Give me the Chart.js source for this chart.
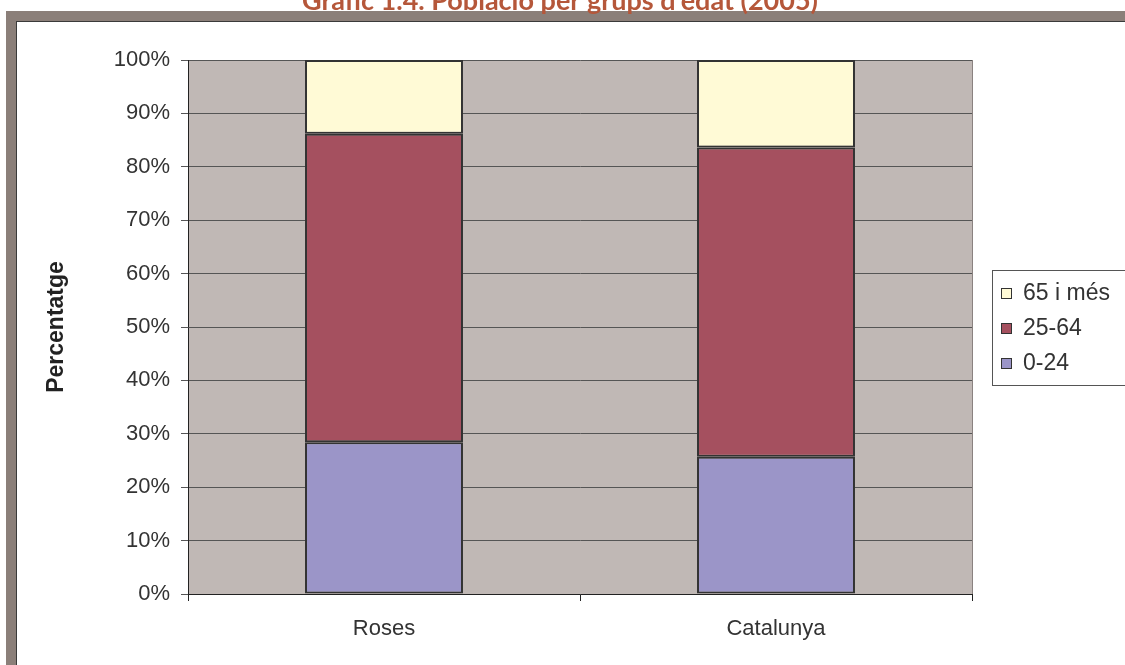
<!DOCTYPE html>
<html>
<head>
<meta charset="utf-8">
<script src="https://cdn.jsdelivr.net/npm/chart.js@4"></script>
<style>
  html, body { margin: 0; padding: 0; background: #fff; }
  #wrap { position: relative; width: 1125px; height: 665px; overflow: hidden; }
</style>
</head>
<body>
<div id="wrap"><canvas id="chart" width="1125" height="665"></canvas></div>
<script>
const categories = ["Roses", "Catalunya"];
const edat0_24 = [28.4, 25.7];
const edat25_64 = [57.8, 57.9];
const edat65 = [13.8, 16.4];
const yTicks = [0, 10, 20, 30, 40, 50, 60, 70, 80, 90, 100];

const titleText = "Gràfic 1.4. Població per grups d'edat (2005)";

// frame, title and grey plot background
const framePlugin = {
  id: "frame",
  beforeDraw(chart) {
    const ctx = chart.ctx;
    const a = chart.chartArea;
    ctx.save();
    ctx.fillStyle = "#8b7f79";
    ctx.fillRect(6, 11, 1200, 700);
    ctx.fillStyle = "#3a3a3a";
    ctx.fillRect(16, 21, 1200, 700);
    ctx.fillStyle = "#fff";
    ctx.fillRect(17, 22, 1200, 700);
    ctx.fillStyle = "#b5573a";
    ctx.font = "bold 27px Lato";
    ctx.textAlign = "center";
    ctx.textBaseline = "alphabetic";
    ctx.fillText(titleText, 560, 10);
    ctx.fillStyle = "#c0b8b5";
    ctx.fillRect(a.left, a.top, a.right - a.left, a.bottom - a.top);
    ctx.restore();
  },
  afterDatasetsDraw(chart) {
    const ctx = chart.ctx;
    const a = chart.chartArea;
    ctx.save();
    ctx.strokeStyle = "#8a8280";
    ctx.lineWidth = 1;
    ctx.beginPath();
    ctx.moveTo(a.right + 0.5, a.top);
    ctx.lineTo(a.right + 0.5, a.bottom);
    ctx.stroke();
    ctx.restore();
  }
};

// boxed legend at the right, top item = top of stack
const legendPlugin = {
  id: "boxLegend",
  afterDraw(chart) {
    const ctx = chart.ctx;
    const sets = chart.data.datasets.slice().reverse();
    const x0 = 992, y0 = 270, rowH = 35;
    ctx.save();
    ctx.fillStyle = "#fff";
    ctx.fillRect(x0, y0, 200, 115);
    ctx.strokeStyle = "#555";
    ctx.lineWidth = 1;
    ctx.strokeRect(x0 + 0.5, y0 + 0.5, 200, 115);
    ctx.font = "23px 'Liberation Sans'";
    ctx.textBaseline = "middle";
    sets.forEach((ds, i) => {
      const cy = y0 + 23 + i * rowH;
      ctx.fillStyle = ds.backgroundColor;
      ctx.fillRect(x0 + 9, cy - 5, 11, 11);
      ctx.strokeStyle = "#333";
      ctx.strokeRect(x0 + 9.5, cy - 4.5, 10, 10);
      ctx.fillStyle = "#333";
      ctx.fillText(ds.label, x0 + 31, cy + 1);
    });
    ctx.restore();
  }
};

Chart.defaults.font.family = "'Liberation Sans', Arial, sans-serif";
Chart.defaults.color = "#333";

new Chart(document.getElementById("chart"), {
  type: "bar",
  data: {
    labels: categories,
    datasets: [
      { label: "0-24", data: edat0_24, backgroundColor: "#9b95c8" },
      { label: "25-64", data: edat25_64, backgroundColor: "#a5505f" },
      { label: "65 i més", data: edat65, backgroundColor: "#fffad6" }
    ].map(d => Object.assign(d, {
      borderColor: "#333",
      borderWidth: 2,
      borderSkipped: false,
      categoryPercentage: 1,
      barPercentage: 0.403
    }))
  },
  options: {
    responsive: false,
    animation: false,
    layout: { padding: { left: 40, right: 153, top: 60, bottom: 0 } },
    plugins: { legend: { display: false }, tooltip: { enabled: false } },
    scales: {
      x: {
        stacked: true,
        offset: true,
        afterFit: s => { s.height = 71; },
        grid: { offset: true, drawOnChartArea: false, tickLength: 7, color: "#222" },
        border: { display: true, color: "#222", width: 1 },
        ticks: { font: { size: 22 }, padding: 15, color: "#333" }
      },
      y: {
        stacked: true,
        min: 0,
        max: 100,
        afterFit: s => { s.width = 148; },
        afterBuildTicks: s => { s.ticks = yTicks.map(v => ({ value: v })); },
        grid: { color: "#555", tickLength: 7, lineWidth: 1 },
        border: { display: true, color: "#222", width: 1 },
        ticks: { font: { size: 22 }, padding: 11, color: "#333", callback: v => v + "%" },
        title: {
          display: true,
          text: "Percentatge",
          font: { size: 23, weight: "bold" },
          color: "#222",
          padding: { top: 3, bottom: 0 }
        }
      }
    }
  },
  plugins: [framePlugin, legendPlugin]
});
</script>
</body>
</html>
